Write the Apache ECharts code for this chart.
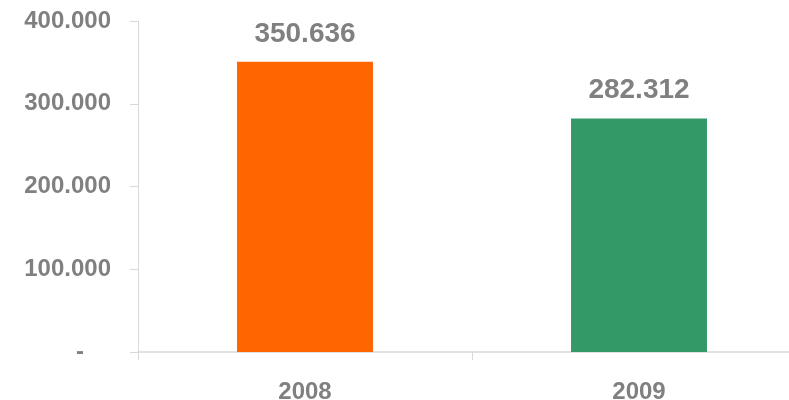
<!DOCTYPE html>
<html>
<head>
<meta charset="utf-8">
<script src="https://cdn.jsdelivr.net/npm/echarts@6/dist/echarts.min.js"></script>
<style>
  html, body { margin: 0; padding: 0; background: #fff; }
  #chart { width: 789px; height: 400px; }
</style>
</head>
<body>
<div id="chart"></div>
<script>
const categories = ['2008', '2009']
const values = [350636, 282312]
const barColors = ['#ff6600', '#339966']
const yMax = 400000
const yInterval = 100000

// dots as thousand separators, zero shown as a dash
const fmt = v => String(Math.round(v)).replace(/\B(?=(\d{3})+(?!\d))/g, '.')

const textGray = '#808080'
const axisGray = '#d9d9d9'
const font = '"Liberation Sans", Arial, sans-serif'

const chart = echarts.init(document.getElementById('chart'))
chart.setOption({
  animation: false,
  grid: {
    left: 138, top: 21, width: 668, bottom: 48,
    containLabel: false, outerBoundsMode: 'none'
  },
  xAxis: {
    type: 'category',
    data: categories,
    axisLine: { lineStyle: { color: axisGray, width: 1.5 } },
    axisTick: { show: true, length: 8, lineStyle: { color: axisGray } },
    axisLabel: {
      margin: 28,
      color: textGray,
      fontFamily: font,
      fontWeight: 'bold',
      fontSize: 24
    }
  },
  yAxis: {
    type: 'value',
    min: 0,
    max: yMax,
    interval: yInterval,
    splitLine: { show: false },
    axisLine: { show: true, lineStyle: { color: axisGray } },
    axisTick: { show: true, length: 8, lineStyle: { color: axisGray } },
    axisLabel: {
      margin: 27,
      color: textGray,
      fontFamily: font,
      fontWeight: 'bold',
      fontSize: 24,
      formatter: v => (v === 0 ? '{z|-}' : fmt(v)),
      rich: {
        z: {
          color: textGray,
          fontFamily: font,
          fontWeight: 'bold',
          fontSize: 24,
          padding: [0, 27, 0, 0]
        }
      }
    }
  },
  series: [{
    type: 'bar',
    barWidth: '40.7%',
    data: values.map((v, i) => ({ value: v, itemStyle: { color: barColors[i] } })),
    label: {
      show: true,
      position: 'top',
      distance: 14,
      color: textGray,
      fontFamily: font,
      fontWeight: 'bold',
      fontSize: 28,
      formatter: p => fmt(p.value)
    }
  }]
})
</script>
</body>
</html>
